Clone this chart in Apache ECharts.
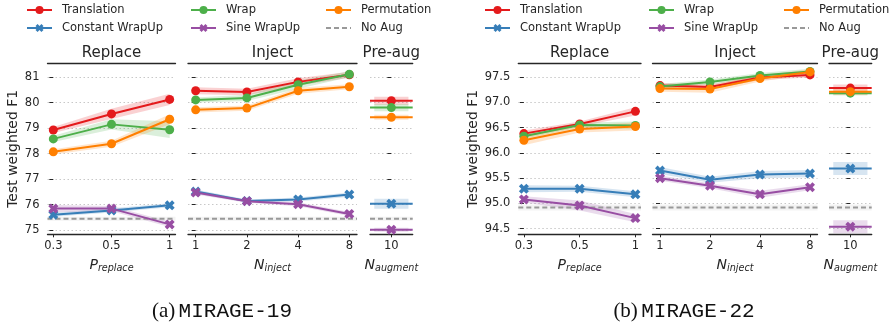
<!DOCTYPE html>
<html>
<head>
<meta charset="utf-8">
<script src="https://cdn.jsdelivr.net/npm/echarts@6/dist/echarts.min.js"></script>
<style>
html, body { margin: 0; padding: 0; background: #fff; }
#main { width: 896px; height: 329px; }
</style>
</head>
<body>
<div id="main"></div>
<script>
// categories / tick labels
var methods = ['Translation', 'Constant WrapUp', 'Wrap', 'Sine WrapUp', 'Permutation'];
var replaceLabels = ['0.3', '0.5', '1'];
var injectLabels = ['1', '2', '4', '8'];
var augLabels = ['10'];
var yTicksA = [75, 76, 77, 78, 79, 80, 81];
var yTicksB = [94.5, 95, 95.5, 96, 96.5, 97, 97.5];

// values per method: 3 x replace, 4 x inject, 1 x pre-aug
// (a) MIRAGE-19
var a_translation = [78.93, 79.56, 80.13, 80.47, 80.42, 80.82, 81.10, 80.08];
var a_constant    = [75.60, 75.77, 75.97, 76.51, 76.14, 76.20, 76.39, 76.03];
var a_wrap        = [78.58, 79.15, 78.94, 80.11, 80.19, 80.71, 81.12, 79.81];
var a_sine        = [75.84, 75.84, 75.22, 76.47, 76.13, 76.01, 75.63, 75.01];
var a_permutation = [78.07, 78.39, 79.35, 79.72, 79.79, 80.47, 80.63, 79.43];
var a_noaug = 75.44;
// half widths of the shaded bands
var a_translation_ci = [0.12, 0.20, 0.22, 0.14, 0.13, 0.14, 0.12, 0.16];
var a_constant_ci    = [0.08, 0.08, 0.08, 0.08, 0.06, 0.08, 0.08, 0.20];
var a_wrap_ci        = [0.12, 0.20, 0.33, 0.10, 0.12, 0.16, 0.12, 0.14];
var a_sine_ci        = [0.14, 0.10, 0.10, 0.08, 0.06, 0.08, 0.08, 0.08];
var a_permutation_ci = [0.10, 0.12, 0.20, 0.10, 0.10, 0.12, 0.10, 0.10];
var a_noaug_ci = 0.08;

// (b) MIRAGE-22
var b_translation = [96.38, 96.57, 96.82, 97.33, 97.30, 97.49, 97.54, 97.28];
var b_constant    = [95.29, 95.29, 95.18, 95.65, 95.47, 95.57, 95.59, 95.69];
var b_wrap        = [96.33, 96.55, 96.54, 97.31, 97.40, 97.53, 97.61, 97.18];
var b_sine        = [95.08, 94.96, 94.71, 95.50, 95.35, 95.18, 95.32, 94.54];
var b_permutation = [96.25, 96.47, 96.52, 97.27, 97.26, 97.47, 97.60, 97.21];
var b_noaug = 94.92;
var b_translation_ci = [0.06, 0.05, 0.08, 0.05, 0.05, 0.05, 0.05, 0.07];
var b_constant_ci    = [0.07, 0.06, 0.06, 0.07, 0.06, 0.07, 0.07, 0.13];
var b_wrap_ci        = [0.05, 0.05, 0.08, 0.05, 0.05, 0.05, 0.05, 0.04];
var b_sine_ci        = [0.06, 0.10, 0.08, 0.05, 0.05, 0.07, 0.06, 0.13];
var b_permutation_ci = [0.10, 0.07, 0.08, 0.06, 0.07, 0.06, 0.05, 0.07];
var b_noaug_ci = 0.06;

var colors = ['#e41a1c', '#377eb8', '#4daf4a', '#984ea3', '#ff7f00'];
var xSymbol = 'path://M0,2.6 L2.6,0 L5,2.4 L7.4,0 L10,2.6 L7.6,5 L10,7.4 L7.4,10 L5,7.6 L2.6,10 L0,7.4 L2.4,5 Z';
var symbols = ['circle', xSymbol, 'circle', xSymbol, 'circle'];
var symSizes = [9, 10, 9, 10, 9];
var ink = '#262626';

var charts = [
    { vals: [a_translation, a_constant, a_wrap, a_sine, a_permutation],
      cis: [a_translation_ci, a_constant_ci, a_wrap_ci, a_sine_ci, a_permutation_ci],
      noaug: a_noaug, noaugCi: a_noaug_ci, yMin: 74.83, yMax: 81.55, yTicks: yTicksA,
      fmt: function (v) { return String(v); },
      lefts: [47.5, 188, 370], widths: [128, 169, 42.7],
      legendLefts: [26, 190, 325], caption: '{p|(a)} {m|MIRAGE-19}', capX: 222 },
    { vals: [b_translation, b_constant, b_wrap, b_sine, b_permutation],
      cis: [b_translation_ci, b_constant_ci, b_wrap_ci, b_sine_ci, b_permutation_ci],
      noaug: b_noaug, noaugCi: b_noaug_ci, yMin: 94.39, yMax: 97.77, yTicks: yTicksB,
      fmt: function (v) { return v.toFixed(1); },
      lefts: [518.3, 652.5, 829], widths: [122.7, 165, 42.7],
      legendLefts: [484, 648, 783], caption: '{p|(b)} {m|MIRAGE-22}', capX: 684 }
];

var panels = [
    { title: 'Replace', labels: replaceLabels, start: 0, sub: 'replace', min: -0.1, max: 2.1 },
    { title: 'Inject', labels: injectLabels, start: 3, sub: 'inject', min: -0.15, max: 3.15 },
    { title: 'Pre-aug', labels: augLabels, start: 7, sub: 'augment', min: -0.5, max: 0.5 }
];

var gridTop = 63.3, gridH = 171;
var grids = [], xAxes = [], yAxes = [], series = [], legends = [], graphics = [];

function band(xi, yi, pts, color, op) {
    return {
        type: 'custom', xAxisIndex: xi, yAxisIndex: yi, silent: true, z: 1,
        data: pts, encode: { x: 0, y: [1, 2] },
        renderItem: function (params, api) {
            if (params.dataIndex !== 0) return;
            var top = pts.map(function (p) { return api.coord([p[0], p[2]]); });
            var bot = pts.map(function (p) { return api.coord([p[0], p[1]]); }).reverse();
            return { type: 'polygon', shape: { points: top.concat(bot) },
                     style: { fill: color, opacity: op } };
        }
    };
}

charts.forEach(function (ch, c) {
    panels.forEach(function (pn, p) {
        var g = grids.length;
        grids.push({ left: ch.lefts[p], width: ch.widths[p], top: gridTop, height: gridH });
        var idx = pn.labels.map(function (l, i) { return i; });
        xAxes.push({
            type: 'value', gridIndex: g, position: 'bottom', min: pn.min, max: pn.max,
            axisLine: { lineStyle: { color: ink, width: 1.3 } },
            axisTick: { customValues: idx, length: 3, lineStyle: { color: ink } },
            axisLabel: { customValues: idx, margin: 6, color: ink, fontSize: 11.5,
                         fontFamily: 'DejaVu Sans',
                         formatter: function (v) { return pn.labels[Math.round(v)]; } },
            splitLine: { show: false },
            name: '{i|' + (p === 0 ? 'P' : 'N') + '}{s|' + pn.sub + '}',
            nameLocation: 'middle', nameGap: 22,
            nameTextStyle: { rich: {
                i: { fontSize: 14, fontStyle: 'italic', fontFamily: 'DejaVu Sans', color: ink, lineHeight: 18 },
                s: { fontSize: 9.6, fontStyle: 'italic', fontFamily: 'DejaVu Sans', color: ink, lineHeight: 18,
                     padding: [6, 0, 0, 0] }
            } }
        });
        xAxes.push({
            type: 'value', gridIndex: g, position: 'top', min: pn.min, max: pn.max,
            axisLine: { lineStyle: { color: ink, width: 1.3 } },
            axisTick: { show: false }, axisLabel: { show: false }, splitLine: { show: false },
            name: pn.title, nameLocation: 'middle', nameGap: 3,
            nameTextStyle: { fontSize: 15, color: ink, fontFamily: 'DejaVu Sans' }
        });
        yAxes.push({
            type: 'value', gridIndex: g, min: ch.yMin, max: ch.yMax,
            axisLine: { show: false },
            axisTick: { show: true, customValues: ch.yTicks, length: 4, lineStyle: { color: ink } },
            axisLabel: { show: p === 0, customValues: ch.yTicks, margin: 8, color: ink, fontSize: 11.5,
                         fontFamily: 'DejaVu Sans', formatter: ch.fmt },
            splitLine: { show: true, lineStyle: { color: '#c8c8c8', type: [1.5, 2.5], width: 1 } },
            name: p === 0 ? 'Test weighted F1' : '', nameLocation: 'middle', nameGap: 27,
            nameTextStyle: { fontSize: 14, color: ink, fontFamily: 'DejaVu Sans' }
        });
        var xi = 2 * g, yi = g;

        // no-aug baseline
        series.push(band(xi, yi, [[pn.min, ch.noaug - ch.noaugCi, ch.noaug + ch.noaugCi],
                                  [pn.max, ch.noaug - ch.noaugCi, ch.noaug + ch.noaugCi]], '#999999', 0.12));
        methods.forEach(function (m, k) {
            var v = ch.vals[k], ci = ch.cis[k];
            var pts, line;
            if (p < 2) {
                pts = idx.map(function (i) {
                    return [i, v[pn.start + i] - ci[pn.start + i], v[pn.start + i] + ci[pn.start + i]];
                });
                line = idx.map(function (i) { return [i, v[pn.start + i]]; });
            } else {
                var y = v[pn.start], e = ci[pn.start];
                pts = [[-0.4, y - e, y + e], [0.4, y - e, y + e]];
                line = [{ value: [pn.min, y], symbol: 'none' }, [0, y], { value: [pn.max, y], symbol: 'none' }];
            }
            series.push(band(xi, yi, pts, colors[k], 0.2));
            series.push({
                name: m, type: 'line', xAxisIndex: xi, yAxisIndex: yi, data: line, z: 3 + k,
                symbol: symbols[k], symbolSize: symSizes[k], showSymbol: true,
                lineStyle: { width: 2, color: colors[k] }, itemStyle: { color: colors[k] },
                emphasis: { disabled: true }
            });
        });
        series.push({
            name: 'No Aug', type: 'line', xAxisIndex: xi, yAxisIndex: yi, z: 2,
            data: [[pn.min, ch.noaug], [pn.max, ch.noaug]], symbol: 'none',
            lineStyle: { width: 2, color: '#999999', type: [5, 3] }, itemStyle: { color: '#999999' }
        });
    });

    var cols = [['Translation', 'Constant WrapUp'], ['Wrap', 'Sine WrapUp'],
                ['Permutation', { name: 'No Aug', itemStyle: { opacity: 0 } }]];
    cols.forEach(function (names, j) {
        legends.push({
            data: names, orient: 'vertical', left: ch.legendLefts[j], top: 3, padding: 0,
            itemWidth: 25, itemHeight: 10, itemGap: 4, selectedMode: false,
            textStyle: { fontSize: 11.5, color: ink, fontFamily: 'DejaVu Sans', lineHeight: 14,
                         padding: [0, 0, 0, 5] }
        });
    });

    graphics.push({
        type: 'text', x: ch.capX, y: 311.5,
        style: { text: ch.caption, align: 'center', verticalAlign: 'middle',
                 rich: { p: { fontSize: 21, fontFamily: 'Liberation Serif', fill: '#111' },
                         m: { fontSize: 21, fontFamily: 'Liberation Mono', fill: '#111' } } }
    });
});

var myChart = echarts.init(document.getElementById('main'));
myChart.setOption({
    animation: false,
    grid: grids,
    xAxis: xAxes,
    yAxis: yAxes,
    legend: legends,
    series: series,
    graphic: graphics
});
</script>
</body>
</html>
